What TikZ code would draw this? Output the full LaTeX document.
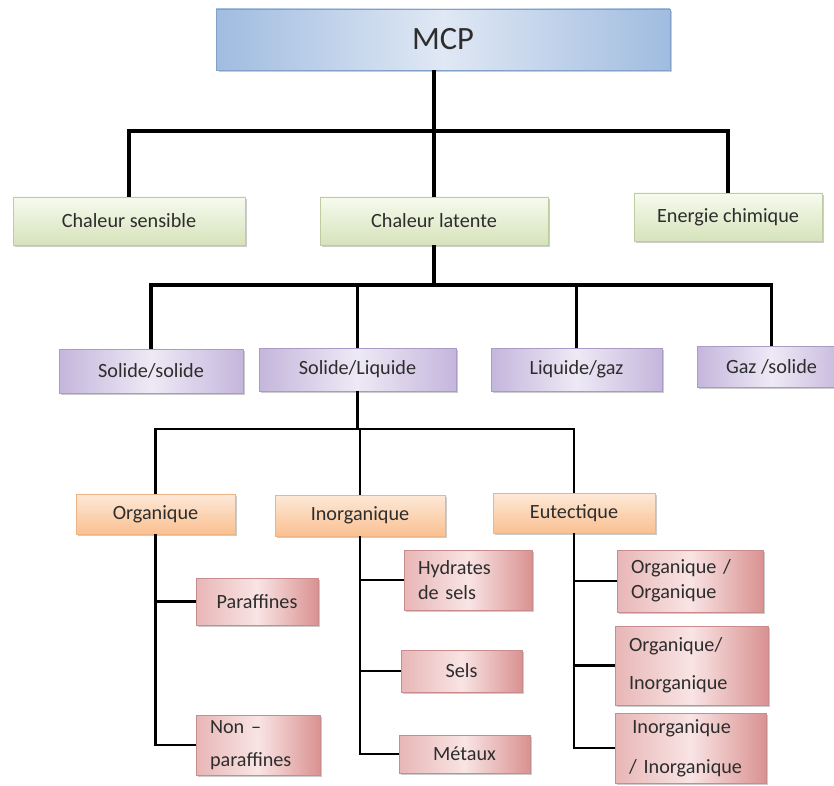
\documentclass[tikz,border=0pt]{standalone}
\usepackage{fontspec}
\setmainfont{Carlito}
\usetikzlibrary{shadows}
\definecolor{mcp-edge}{RGB}{130, 160, 200}
\definecolor{mcp-side}{RGB}{160, 188, 224}
\definecolor{mcp-mid}{RGB}{224, 232, 244}
\definecolor{green-top}{RGB}{247, 250, 239}
\definecolor{green-bot}{RGB}{214, 227, 186}
\definecolor{green-edge}{RGB}{190, 205, 160}
\definecolor{purple-side}{RGB}{196, 182, 220}
\definecolor{purple-mid}{RGB}{238, 233, 245}
\definecolor{purple-edge}{RGB}{170, 155, 198}
\definecolor{orange-top}{RGB}{253, 233, 216}
\definecolor{orange-bot}{RGB}{250, 192, 145}
\definecolor{orange-edge}{RGB}{238, 180, 132}
\definecolor{pink-left}{RGB}{232, 182, 182}
\definecolor{pink-mid}{RGB}{249, 228, 228}
\definecolor{pink-right}{RGB}{217, 146, 145}
\definecolor{pink-edge}{RGB}{200, 140, 140}
\definecolor{label-gray}{RGB}{45, 45, 45}

\begin{document}
\begin{tikzpicture}[x=0.02cm, y=-0.02cm,
    cell/.style={rectangle, inner sep=0pt, line width=0.4pt, text=label-gray,
        font=\fontsize{11.5}{14}\selectfont,
        drop shadow={shadow xshift=1.4pt, shadow yshift=-1.4pt, opacity=0.4}},
    topbox/.style={cell, draw=mcp-edge, left color=mcp-side, right color=mcp-side,
        middle color=mcp-mid, font=\fontsize{18.5}{22}\selectfont},
    greenbox/.style={cell, draw=green-edge, top color=green-top, bottom color=green-bot},
    purplebox/.style={cell, draw=purple-edge, left color=purple-side, right color=purple-side,
        middle color=purple-mid},
    orangebox/.style={cell, draw=orange-edge, top color=orange-top, bottom color=orange-bot},
    pinkbox/.style={cell, draw=pink-edge, left color=pink-left, right color=pink-right,
        middle color=pink-mid, align=left},
    upper/.style={line width=1.8pt},
    lower/.style={line width=1.2pt}]
\useasboundingbox (0,0) rectangle (834,786);

\node[topbox, minimum width=9.08cm, minimum height=1.22cm] (mcp) at (443,39.5) {MCP};

\node[greenbox, minimum width=4.64cm, minimum height=0.96cm] (sensible) at (129,221) {Chaleur sensible};
\node[greenbox, minimum width=4.56cm, minimum height=0.96cm] (latente) at (434,221) {Chaleur latente};
\node[greenbox, minimum width=3.76cm, minimum height=0.96cm] (chimique) at (728,217) {Energie chimique};

\node[purplebox, minimum width=3.68cm, minimum height=0.88cm] (solsol) at (151,371) {Solide/solide};
\node[purplebox, minimum width=3.94cm, minimum height=0.86cm] (solliq) at (357.5,369.5) {Solide/Liquide};
\node[purplebox, minimum width=3.42cm, minimum height=0.86cm] (liqgaz) at (576.5,369.5) {Liquide/gaz};
\node[purplebox, minimum width=2.98cm, minimum height=0.82cm] (gazsol) at (771.5,366.5) {Gaz /solide};

\node[orangebox, minimum width=3.18cm, minimum height=0.80cm] (org) at (155.5,514) {Organique};
\node[orangebox, minimum width=3.40cm, minimum height=0.82cm] (inorg) at (360,515.5) {Inorganique};
\node[orangebox, minimum width=3.24cm, minimum height=0.80cm] (eut) at (574,513) {Eutectique};

\node[pinkbox, minimum width=2.44cm, minimum height=0.94cm] (par) at (257,601.5) {Paraffines};
\node[pinkbox, minimum width=2.48cm, minimum height=1.20cm, text width=1.92cm] (nonpar) at (258,745) {Non --\\[5pt]paraffines};
\node[pinkbox, minimum width=2.56cm, minimum height=1.20cm, text width=2.00cm] (hyd) at (468,580) {Hydrates\\de sels};
\node[pinkbox, minimum width=2.42cm, minimum height=0.84cm] (sels) at (461.5,671) {Sels};
\node[pinkbox, minimum width=2.62cm, minimum height=0.76cm] (met) at (464.5,754) {Métaux};
\node[pinkbox, minimum width=2.92cm, minimum height=1.24cm, text width=2.36cm] (oo) at (690,581) {Organique /\\Organique};
\node[pinkbox, minimum width=3.06cm, minimum height=1.58cm, text width=2.50cm] (oi) at (691.5,665.5) {Organique/\\[7.5pt]Inorganique};
\node[pinkbox, minimum width=3.02cm, minimum height=1.40cm, text width=2.46cm] (ii) at (690.5,748) {\,Inorganique\\[9pt]/ Inorganique};

\coordinate (bar1) at (0,131);
\coordinate (bar2) at (0,285);
\coordinate (bar3) at (0,429);

\draw[upper] (latente.north |- mcp.south) -- (latente.north);
\draw[upper] (sensible.north) -- (sensible.north |- bar1) -- (chimique.north |- bar1) -- (chimique.north);
\draw[upper] (latente.south) -- (latente.south |- bar2);
\draw[upper] (solsol.north) -- (solsol.north |- bar2) -- (gazsol.north |- bar2) -- (gazsol.north);
\draw[upper] (solliq.north) -- (solliq.north |- bar2);
\draw[upper] (liqgaz.north) -- (liqgaz.north |- bar2);

\draw[lower] (solliq.south) -- (solliq.south |- bar3);
\draw[lower] (org.north) -- (org.north |- bar3) -- (eut.north |- bar3) -- (eut.north);
\draw[lower] (inorg.north) -- (inorg.north |- bar3);

\draw[lower] (org.south) -- (org.south |- nonpar.west) -- (nonpar.west);
\draw[lower] (org.south |- par.west) -- (par.west);
\draw[lower] (inorg.south) -- (inorg.south |- met.west) -- (met.west);
\draw[lower] (inorg.south |- hyd.west) -- (hyd.west);
\draw[lower] (inorg.south |- sels.west) -- (sels.west);
\draw[lower] (eut.south) -- (eut.south |- ii.west) -- (ii.west);
\draw[lower] (eut.south |- oo.west) -- (oo.west);
\draw[lower] (eut.south |- oi.west) -- (oi.west);
\end{tikzpicture}
\end{document}
